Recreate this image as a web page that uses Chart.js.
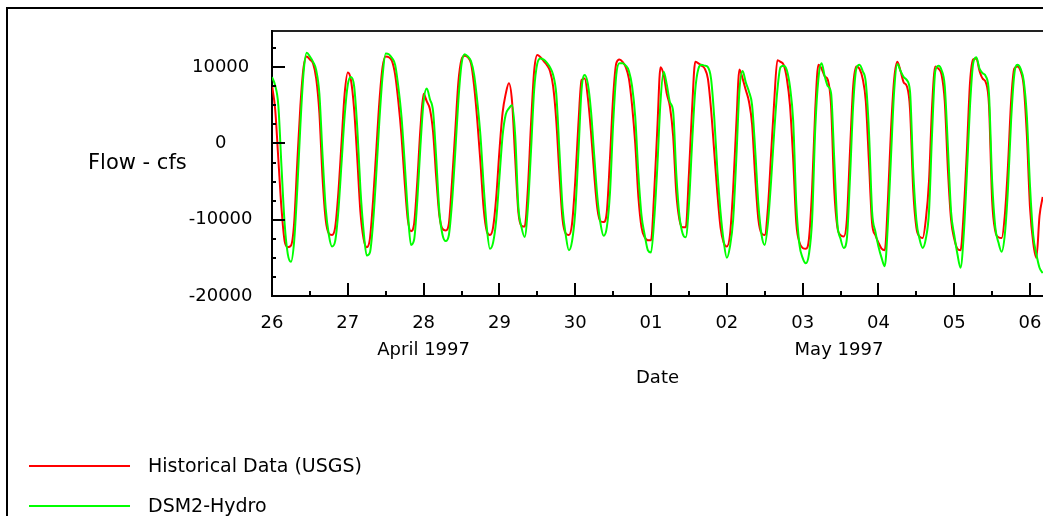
<!DOCTYPE html>
<html><head><meta charset="utf-8">
<script src="https://cdn.jsdelivr.net/npm/chart.js@4.4.1/dist/chart.umd.min.js"></script>
<style>
html,body{margin:0;padding:0;background:#fff;width:1043px;height:516px;overflow:hidden;}
#wrap{position:relative;width:1043px;height:516px;overflow:hidden;}
#frame{position:absolute;left:6px;top:7px;width:1100px;height:600px;border-left:2px solid #000;border-top:2px solid #000;}
canvas{position:absolute;left:0;top:0;}
#ytitle{position:absolute;left:88px;top:152px;font-family:'DejaVu Sans';font-size:21px;line-height:21px;color:#000;white-space:nowrap;}
.lg{position:absolute;left:29px;width:101px;height:2px;}
.lt{position:absolute;left:148px;font-family:'DejaVu Sans';font-size:19px;line-height:20px;color:#000;white-space:nowrap;}
</style></head>
<body><div id="wrap"><div id="frame"></div><canvas id="c" width="1043" height="516"></canvas><div id="ytitle">Flow - cfs</div><div id="legend"></div></div>
<script>
// Hourly samples starting 26 April 1997 00:00
const dayLabels = ['26','27','28','29','30','01','02','03','04','05','06'];
const monthLabels = ['April 1997','May 1997'];
const monthLabelHours = [48, 179.5];
const yTickValues = [-20000,-17500,-15000,-12500,-10000,-7500,-5000,-2500,0,2500,5000,7500,10000,12500];
const xTickHours = [0,12,24,36,48,60,72,84,96,108,120,132,144,156,168,180,192,204,216,228,240];
const seriesNames = ['Historical Data (USGS)','DSM2-Hydro'];

const historical = [
 7600, 4500, -2000, -8500, -12800, -13600, -13400, -10500, -2500, 5000, 10000, 11400,
 11000, 10500, 8500, 4000, -4500, -10000, -11800, -12000, -11000, -6500, 0, 6500,
 9300, 8300, 4500, -2000, -9000, -12500, -13600, -12500, -7500, -1000, 5500, 10000,
 11400, 11300, 10800, 9000, 5500, 1000, -5000, -10000, -11500, -10500, -5000, 2000,
 6500, 5500, 4500, 1500, -4500, -9500, -11200, -11400, -10500, -5000, 1500, 8000,
 11000, 11500, 11300, 10500, 7500, 3000, -2500, -8500, -11500, -12000, -11000, -7000,
 -1000, 4000, 6500, 7900, 5500, -2000, -9000, -10800, -10900, -6000, 2500, 9500,
 11600, 11300, 10800, 10300, 9500, 7500, 3000, -4000, -10000, -11800, -12000, -10500,
 -5000, 2500, 8300, 8500, 6000, 1500, -4000, -8500, -10200, -10300, -9000, -2000,
 6000, 10500, 11000, 10700, 10000, 8500, 5000, 0, -7000, -11000, -12300, -12700,
 -12700, -6500, 2000, 10000, 9000, 6500, 4800, 1000, -6500, -10000, -11000, -11000,
 -4000, 4500, 10700, 10500, 10200, 9800, 8500, 4500, -1000, -6500, -11000, -13000,
 -13500, -12000, -6000, 2500, 9700, 8500, 7000, 5500, 2500, -4500, -10000, -11800,
 -12000, -8500, -1500, 5500, 10900, 10700, 10300, 8500, 5000, -2000, -10500, -13000,
 -13700, -13800, -12500, -6000, 4500, 10300, 9800, 8800, 8300, 5000, -6000, -11000,
 -12000, -12200, -10000, -1000, 7500, 10100, 9800, 8500, 5500, -2500, -10500, -12000,
 -13000, -13800, -14000, -7500, 2000, 8500, 10700, 9500, 8000, 7500, 4500, -6000,
 -11000, -12200, -12400, -10000, -5000, 5000, 10100, 9800, 9000, 5500, -3500, -10000,
 -12500, -13800, -14000, -9000, -1000, 8000, 11000, 11150, 9500, 8500, 8000, 5000,
 -7500, -11500, -12300, -12400, -9500, -3000, 5500, 9800, 10100, 9500, 7500, 1000,
 -8500, -13000, -15000, -9500, -7000
];
const dsm2 = [
 8700, 7600, 5000, -3000, -10500, -14500, -15500, -12900, -6000, 2500, 9300, 11900,
 11400, 10700, 9600, 6500, -1500, -8500, -12000, -13500, -12800, -8900, -2700, 3600,
 7700, 8700, 7500, 2000, -6000, -11500, -14700, -14300, -10400, -4100, 3000, 8800,
 11800, 11700, 11200, 10300, 7400, 3500, -2500, -9000, -13300, -12600, -7500, -300,
 5500, 7200, 5800, 4200, -2000, -9000, -12000, -12800, -12000, -7700, -1300, 5600,
 10400, 11700, 11400, 10800, 9000, 5500, 1000, -5500, -11000, -13800, -13000, -10000,
 -4500, 1000, 3800, 4600, 5000, 1000, -8300, -11000, -12250, -8500, -1000, 7000,
 10500, 11150, 11000, 10600, 10000, 9000, 6500, -1000, -8500, -12000, -14000, -12800,
 -9000, -1300, 7000, 8960, 7800, 4200, -1500, -7000, -10500, -12100, -11000, -6500,
 2500, 9000, 10500, 10500, 10200, 9500, 7500, 3500, -4000, -9500, -12000, -14000,
 -14300, -10000, -3000, 5500, 9400, 7700, 5400, 4200, -4000, -9500, -11800, -12300,
 -8000, 0, 7000, 9800, 10300, 10200, 10000, 8500, 3500, -3500, -9000, -12800,
 -15000, -13500, -10000, -2000, 7000, 9500, 8000, 6800, 5000, -1000, -8000, -12000,
 -13300, -10500, -5000, 1500, 7000, 10000, 10200, 9600, 7400, 3000, -8000, -13300,
 -15000, -15700, -14500, -10000, 2000, 8500, 10500, 8800, 7500, 6600, -2000, -10500,
 -12500, -13700, -12500, -4500, 5000, 9800, 10300, 9500, 8000, 1500, -9000, -11500,
 -13500, -15000, -16100, -10500, -1500, 7000, 10400, 9500, 8700, 8300, 6800, -3500,
 -10000, -12500, -13700, -12500, -9000, 1500, 9500, 10200, 9600, 7500, -500, -9000,
 -12000, -14500, -16300, -12000, -4000, 5000, 10500, 11300, 9800, 9200, 8800, 6500,
 -5000, -11000, -13000, -14200, -12000, -6000, 3000, 9000, 10300, 9800, 8200, 3500,
 -5700, -12000, -14500, -16300, -17000
];

const X_MAX_HOURS = 244.1;
const Y_MIN = -20000, Y_MAX = 14740;

Chart.defaults.font.family = "'DejaVu Sans', sans-serif";
Chart.defaults.color = '#000';

const toPoints = arr => arr.map((v, i) => ({x: i, y: v}));

const inwardTicks = {
  id: 'inwardTicks',
  afterDatasetsDraw(chart) {
    const {ctx, chartArea} = chart;
    const xs = chart.scales.x, ys = chart.scales.y;
    ctx.save();
    ctx.strokeStyle = '#000';
    ctx.lineWidth = 2;
    ctx.beginPath();
    xs.ticks.forEach(t => {
      const px = Math.round(xs.getPixelForValue(t.value));
      const len = (t.value % 24 === 0) ? 13 : 5;
      ctx.moveTo(px, chartArea.bottom);
      ctx.lineTo(px, chartArea.bottom - len);
    });
    ys.ticks.forEach(t => {
      const py = Math.round(ys.getPixelForValue(t.value));
      const len = (t.value % 10000 === 0) ? 13 : 4;
      ctx.moveTo(chartArea.left, py);
      ctx.lineTo(chartArea.left + len, py);
    });
    ctx.stroke();
    ctx.restore();
  }
};

const chart = new Chart(document.getElementById('c'), {
  type: 'line',
  data: {
    datasets: [
      {label: seriesNames[0], data: toPoints(historical), borderColor: '#ff0000', backgroundColor: '#ff0000', borderWidth: 2, pointRadius: 0, cubicInterpolationMode: 'monotone', order: 2},
      {label: seriesNames[1], data: toPoints(dsm2), borderColor: '#00ff00', backgroundColor: '#00ff00', borderWidth: 2, pointRadius: 0, cubicInterpolationMode: 'monotone', order: 1}
    ]
  },
  options: {
    responsive: false,
    animation: false,
    devicePixelRatio: 1,
    layout: {padding: {top: 31, left: 0, right: 0, bottom: 127.2}},
    plugins: {legend: {display: false}, tooltip: {enabled: false}},
    scales: {
      x: {
        type: 'linear', position: 'bottom', weight: 0,
        min: 0, max: X_MAX_HOURS,
        grid: {display: false, drawTicks: false},
        border: {display: true, color: '#000', width: 2},
        afterBuildTicks: s => { s.ticks = xTickHours.map(v => ({value: v})); },
        ticks: {
          autoSkip: false, maxRotation: 0, padding: 17,
          font: {size: 18}, color: '#000',
          callback: v => (v % 24 === 0) ? dayLabels[v / 24] : ''
        },
        afterFit: s => { s.height = 40; s.paddingLeft = 0; s.paddingRight = 0; }
      },
      xm: {
        type: 'linear', position: 'bottom', weight: 1,
        min: 0, max: X_MAX_HOURS,
        grid: {display: false, drawTicks: false},
        border: {display: false},
        afterBuildTicks: s => { s.ticks = monthLabelHours.map(v => ({value: v})); },
        ticks: {
          autoSkip: false, maxRotation: 0, padding: 3.2,
          font: {size: 18}, color: '#000',
          callback: (v, i) => monthLabels[i]
        },
        title: {display: true, text: 'Date', font: {size: 18}, color: '#000', padding: 0},
        afterFit: s => { s.height = 52.8; s.paddingLeft = 0; s.paddingRight = 0; }
      },
      xt: {
        type: 'linear', position: 'top',
        min: 0, max: X_MAX_HOURS,
        grid: {display: false, drawTicks: false},
        border: {display: true, color: '#222', width: 2},
        ticks: {display: false},
        afterFit: s => { s.height = 0; s.paddingLeft = 0; s.paddingRight = 0; }
      },
      y: {
        type: 'linear', position: 'left',
        min: Y_MIN, max: Y_MAX,
        grid: {display: false, drawTicks: false},
        border: {display: true, color: '#000', width: 2},
        afterBuildTicks: s => { s.ticks = yTickValues.map(v => ({value: v})); },
        ticks: {
          autoSkip: false, crossAlign: 'center', padding: 19.5,
          font: {size: 18}, color: '#000',
          callback: v => (v % 10000 === 0) ? String(v) : ''
        },
        afterFit: s => { s.width = 272; s.paddingTop = 0; s.paddingBottom = 0; }
      }
    }
  },
  plugins: [inwardTicks]
});

// Legend built from the chart's datasets (stacked vertically, as in the reference)
const legend = document.getElementById('legend');
const rowTops = [466, 506];
chart.data.datasets.forEach((ds, i) => {
  const line = document.createElement('div');
  line.className = 'lg';
  line.style.top = (rowTops[i] - 1) + 'px';
  line.style.background = ds.borderColor;
  legend.appendChild(line);
  const txt = document.createElement('div');
  txt.className = 'lt';
  txt.style.top = (rowTops[i] - 11) + 'px';
  txt.textContent = ds.label;
  legend.appendChild(txt);
});
</script>
</body></html>
